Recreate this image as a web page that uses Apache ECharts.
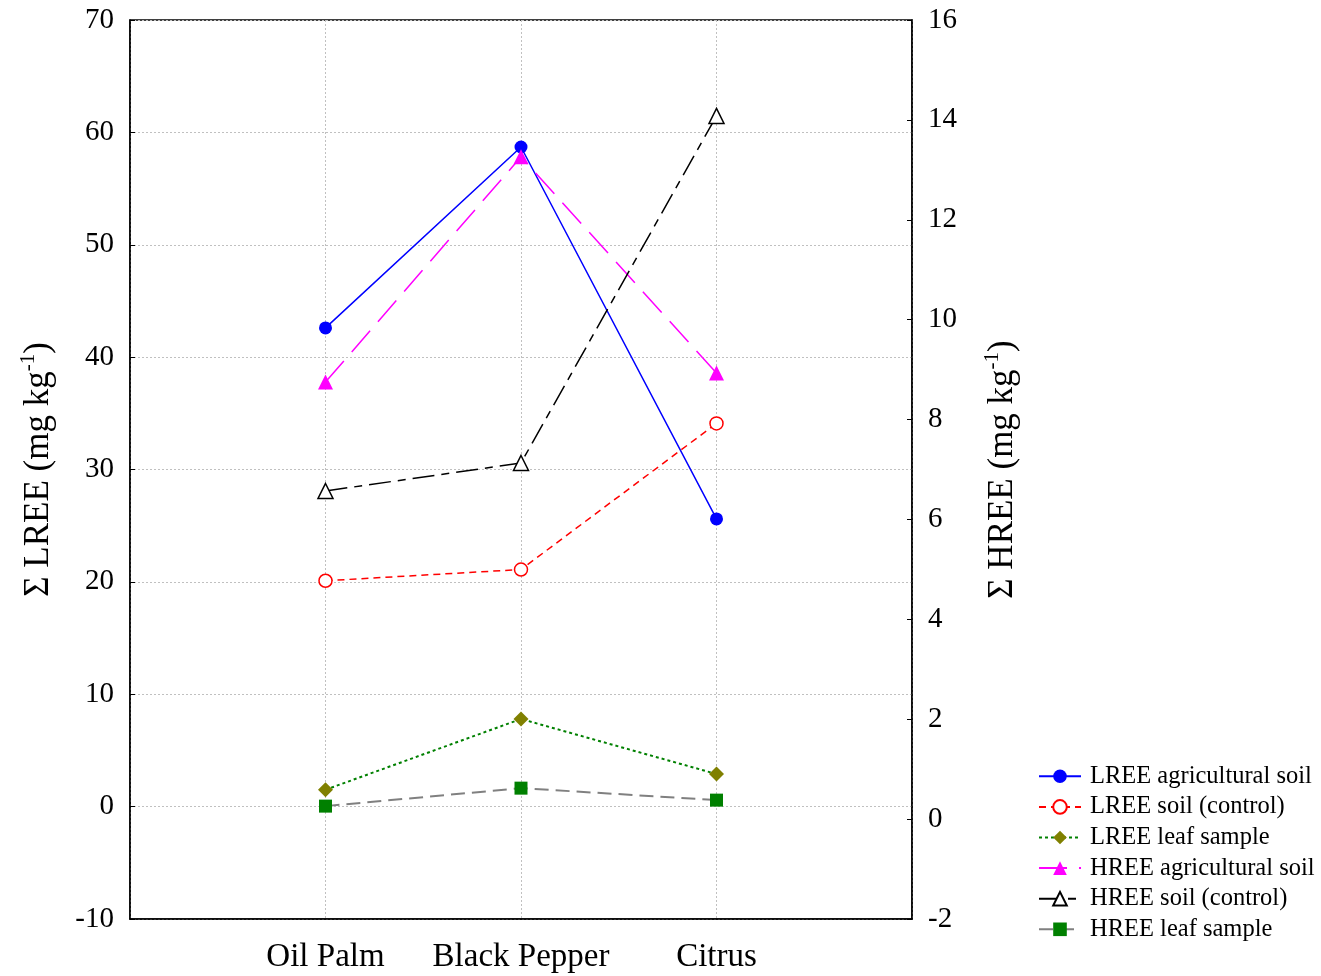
<!DOCTYPE html>
<html>
<head>
<meta charset="utf-8">
<script src="https://cdn.jsdelivr.net/npm/echarts@6/dist/echarts.min.js"></script>
<style>html,body{margin:0;padding:0;background:#fff;}#c{width:1321px;height:976px;}</style>
</head>
<body>
<div id="c"></div>
<script>
const categories = ['', 'Oil Palm', 'Black Pepper', 'Citrus', ''];
const lreeAgri = [null, 42.6, 58.7, 25.6, null];
const lreeControl = [null, 20.1, 21.1, 34.1, null];
const lreeLeaf = [null, 1.5, 7.8, 2.9, null];
const hreeAgri = [null, 8.75, 13.26, 8.93, null];
const hreeControl = [null, 6.57, 7.13, 14.08, null];
const hreeLeaf = [null, 0.26, 0.62, 0.38, null];
const leftTicks = {min: -10, max: 70, interval: 10};
const rightTicks = {min: -2, max: 16, interval: 2};

const FONT = "'Liberation Serif', 'Times New Roman', serif";
const chart = echarts.init(document.getElementById('c'));
const titleRich = {
  a: {fontSize: 35, fontFamily: FONT, color: '#000', lineHeight: 42},
  s: {fontSize: 21, fontFamily: FONT, color: '#000', verticalAlign: 'top', lineHeight: 22}
};
function mk(name, data, yIdx, lineColor, lineWidth, lineType, symbol, size, fill, border) {
  return {
    name: name, type: 'line', data: data, yAxisIndex: yIdx,
    symbol: symbol, symbolSize: size, showSymbol: true, connectNulls: false,
    lineStyle: {color: lineColor, width: lineWidth, type: lineType},
    itemStyle: {color: fill, borderColor: border || fill, borderWidth: border ? 1.5 : 0},
    emphasis: {disabled: true}, animation: false, z: 3
  };
}
chart.setOption({
  animation: false,
  backgroundColor: '#fff',
  grid: {left: 130, right: 409, top: 20, bottom: 57, show: true, borderColor: '#000', borderWidth: 1.5, backgroundColor: 'transparent'},
  legend: {
    orient: 'vertical', left: 1033, top: 758,
    itemWidth: 42, itemHeight: 17, itemGap: 4,
    textStyle: {fontFamily: FONT, fontSize: 24.5, color: '#000', lineHeight: 26.6, padding: [0, 0, 0, 4]},
    data: ['LREE agricultural soil', 'LREE soil (control)', 'LREE leaf sample', 'HREE agricultural soil', 'HREE soil (control)', 'HREE leaf sample']
  },
  xAxis: {
    type: 'category', data: categories, boundaryGap: false,
    axisLine: {show: true, onZero: false, lineStyle: {color: '#000', width: 1.5}},
    axisTick: {show: false},
    axisLabel: {fontFamily: FONT, fontSize: 33, color: '#000', margin: 22, interval: 0},
    splitLine: {show: true, lineStyle: {color: '#c0c0c0', type: [2, 2], width: 1}}
  },
  yAxis: [
    {
      type: 'value', position: 'left', min: leftTicks.min, max: leftTicks.max, interval: leftTicks.interval,
      name: '{a|Σ LREE (mg kg}{s|-1}{a|)}', nameLocation: 'middle', nameRotate: 90, nameGap: 70,
      nameTextStyle: {rich: titleRich},
      axisLine: {show: true, onZero: false, lineStyle: {color: '#000', width: 1.5}},
      axisTick: {show: true, inside: true, length: 5, lineStyle: {color: '#000'}},
      axisLabel: {fontFamily: FONT, fontSize: 29, color: '#000', margin: 16},
      splitLine: {show: true, lineStyle: {color: '#c0c0c0', type: [2, 2], width: 1}}
    },
    {
      type: 'value', position: 'right', min: rightTicks.min, max: rightTicks.max, interval: rightTicks.interval,
      name: '{a|Σ HREE (mg kg}{s|-1}{a|)}', nameLocation: 'middle', nameRotate: 90, nameGap: 70,
      nameTextStyle: {rich: titleRich},
      axisLine: {show: true, onZero: false, lineStyle: {color: '#000', width: 1.5}},
      axisTick: {show: true, inside: true, length: 5, lineStyle: {color: '#000'}},
      axisLabel: {fontFamily: FONT, fontSize: 29, color: '#000', margin: 16},
      splitLine: {show: false}
    }
  ],
  series: [
    mk('LREE agricultural soil', lreeAgri, 0, '#0000ff', 1.5, 'solid', 'circle', 13, '#0000ff'),
    mk('LREE soil (control)', lreeControl, 0, '#ff0000', 1.5, [7, 5], 'circle', 13, '#ffffff', '#ff0000'),
    mk('LREE leaf sample', lreeLeaf, 0, '#008000', 2, [3, 3], 'diamond', 15, '#808000'),
    mk('HREE agricultural soil', hreeAgri, 1, '#ff00ff', 1.5, [28, 12], 'triangle', 15, '#ff00ff'),
    mk('HREE soil (control)', hreeControl, 1, '#000000', 1.5, [22, 7, 8, 7], 'triangle', 15, '#ffffff', '#000000'),
    mk('HREE leaf sample', hreeLeaf, 1, '#808080', 2, [14, 7], 'rect', 13, '#008000')
  ]
});
</script>
</body>
</html>
